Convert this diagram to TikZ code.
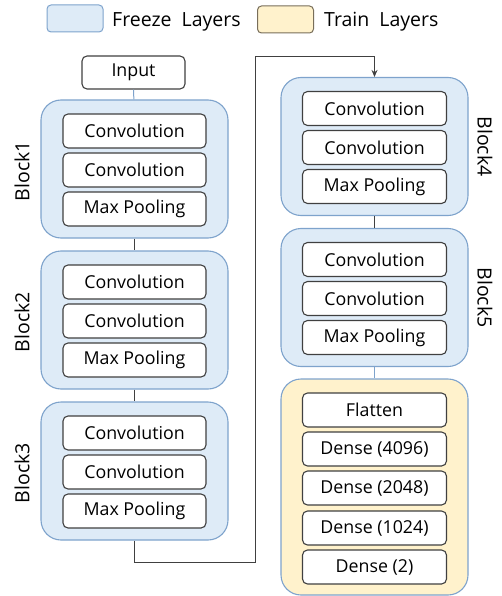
\documentclass[tikz,border=0pt]{standalone}
\usepackage{fontspec}
\setmainfont{Open Sans}
\usetikzlibrary{arrows.meta}

\definecolor{freezefill}{RGB}{222,235,247}
\definecolor{freezeline}{RGB}{126,163,204}
\definecolor{trainfill}{RGB}{255,242,204}
\definecolor{trainedge}{RGB}{120,110,90}
\definecolor{layerline}{RGB}{64,64,64}

\newcommand*{\leftx}{134.5}
\newcommand*{\rightx}{374.5}

\begin{document}
\begin{tikzpicture}
[
	x=1pt,y=-1pt,
	block/.style={draw=freezeline,fill=freezefill,line width=1.1pt,rounded corners=20pt,minimum width=187pt,minimum height=138pt,inner sep=0pt},
	trainblock/.style={block,fill=trainfill,minimum height=216pt},
	layer/.style={draw=layerline,fill=white,line width=1.1pt,rounded corners=5pt,minimum width=143pt,minimum height=34pt,inner sep=0pt,font=\fontsize{17.8}{20}\selectfont},
	blocklabel/.style={inner sep=0pt,font=\fontsize{19.5}{22}\selectfont},
	legendbox/.style={draw=freezeline,fill=freezefill,line width=1pt,rounded corners=4pt,minimum width=56pt,minimum height=27pt,inner sep=0pt},
	legendtext/.style={anchor=west,inner sep=0pt,font=\fontsize{19.5}{22}\selectfont},
	link/.style={draw=layerline,line width=1pt},
	bluelink/.style={draw=freezeline,line width=1pt}
]
	\useasboundingbox (0,0) rectangle (502,596);

	% legend
	\node[legendbox] (freezekey) at (75,18.5) {};
	\node[legendtext] (freezetext) at (112,21.5) {Freeze\ \ Layers};
	\node[legendbox,fill=trainfill,draw=trainedge] (trainkey) at (285.5,19.5) {};
	\node[legendtext] (traintext) at (324,21.5) {Train\ \ Layers};

	% input
	\node[layer,minimum width=103pt,minimum height=33pt] (input) at (133.5,72.5) {Input};

	% left column: blocks 1-3
	\foreach \b/\y in {1/169,2/320,3/471}{
		\node[block] (b\b) at (\leftx,\y) {};
		\node[layer] (b\b c1) at (\leftx,\y-38) {Convolution};
		\node[layer] (b\b c2) at (\leftx,\y+1) {Convolution};
		\node[layer] (b\b p) at (\leftx,\y+40) {Max Pooling};
		\node[blocklabel,rotate=90] (l\b) at (22,\y+2) {Block\b};
	}

	% right column: blocks 4-5
	\foreach \b/\y in {4/146.5,5/297.5}{
		\node[block] (b\b) at (\rightx,\y) {};
		\node[layer,minimum width=144pt] (b\b c1) at (\rightx,\y-38) {Convolution};
		\node[layer,minimum width=144pt] (b\b c2) at (\rightx,\y+1) {Convolution};
		\node[layer,minimum width=144pt] (b\b p) at (\rightx,\y+40) {Max Pooling};
		\node[blocklabel,rotate=-90] (l\b) at (485,\y) {Block\b};
	}

	% dense part
	\node[trainblock] (fc) at (\rightx,487) {};
	\node[layer,minimum width=144pt] (flat) at (\rightx,410) {Flatten};
	\node[layer,minimum width=144pt] (d1) at (\rightx,449) {Dense (4096)};
	\node[layer,minimum width=144pt] (d2) at (\rightx,488) {Dense (2048)};
	\node[layer,minimum width=144pt] (d3) at (\rightx,528) {Dense (1024)};
	\node[layer,minimum width=144pt] (d4) at (\rightx,567) {Dense (2)};

	% connections
	\draw[bluelink] (input) -- (b1);
	\draw[link] (b1) -- (b2);
	\draw[link] (b2) -- (b3);
	\coordinate (turnbot) at (255,562);
	\coordinate (turntop) at (255,57);
	\draw[link,-{Stealth[length=7pt,width=6pt]}] (b3.south) |- (turnbot) -- (turntop) -| (b4.north);
	\draw[link] (b4) -- (b5);
	\draw[bluelink] (b5) -- (fc);

\end{tikzpicture}
\end{document}
